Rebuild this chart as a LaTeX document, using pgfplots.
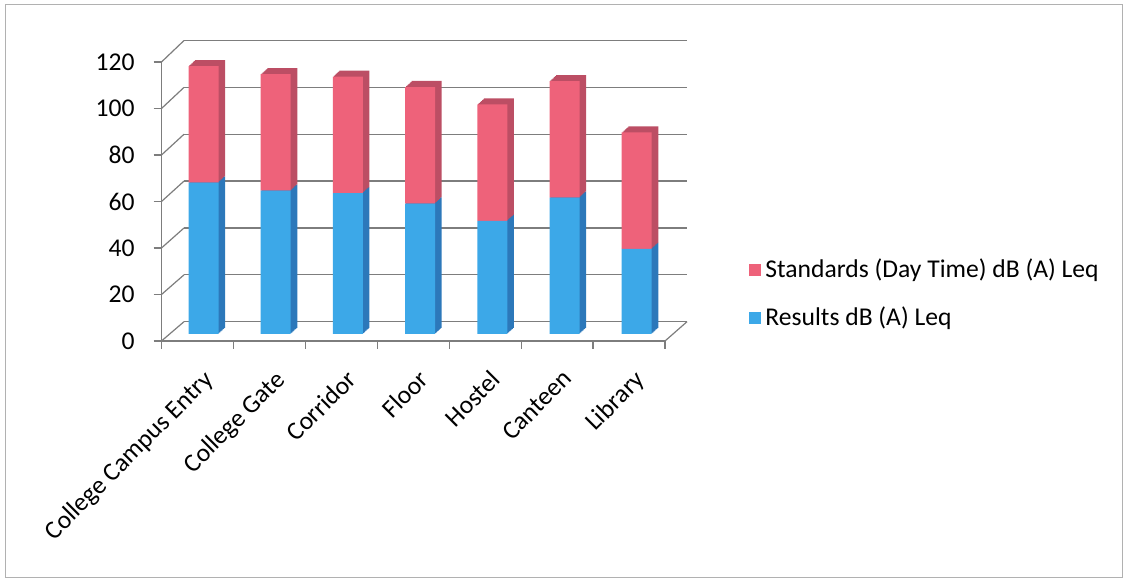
\documentclass[border=0pt]{standalone}
\usepackage{pgfplots}
\pgfplotsset{compat=1.18}
\usepackage{pgfplotstable}
\usepackage{fontspec}
\setmainfont{Carlito}
\definecolor{redF}{RGB}{238,98,122}
\definecolor{redS}{RGB}{188,78,100}
\definecolor{blueF}{RGB}{60,168,232}
\definecolor{blueS}{RGB}{44,120,186}
\definecolor{gridc}{RGB}{125,125,125}

\pgfplotstableread{
x res std
0 65 50
1 61.5 50
2 60.5 50
3 56 50
4 48.5 50
5 58.5 50
6 36.5 50
}\data

\newcommand{\lblfont}{\fontsize{12.8}{15}\selectfont}

\begin{document}
\lblfont
\begin{tikzpicture}[x=1pt,y=1pt]
\path[use as bounding box] (0,0) rectangle (563.5,291);
\draw[gridc!60, line width=0.5pt] (2.5,2) rectangle (561,288.5);
% back wall grid
\begin{axis}[at={(92pt,130.15pt)}, anchor=south west, scale only axis,
  width=251.5pt, height=140.6pt, xmin=0, xmax=1, ymin=0, ymax=120,
  ytick={0,20,...,120}, xtick=\empty, yticklabels={},
  ymajorgrids, major grid style={gridc, line width=0.6pt},
  axis line style={draw=none}, tick style={draw=none}]
\addplot[draw=none] coordinates {(0,0)};
\end{axis}
% left wall and floor edges
\foreach \k in {0,...,6}{
  \draw[gridc, line width=0.6pt] (80.75,{120.5+\k*23.25}) -- (92,{130.15+\k*23.43});
}
\draw[gridc, line width=0.6pt] (332.5,120.5) -- (343.5,130.15);
% depth (side/top faces), extruded back to front
\foreach \s in {7,6,...,1}{
\begin{axis}[at={({83.7pt+\s*0.47pt},{124pt+\s*0.43pt})}, anchor=south west, scale only axis,
  width=252.7pt, height=139.8pt, xmin=-0.5, xmax=6.5, ymin=0, ymax=120,
  hide axis, ybar stacked, bar width=15pt]
\addplot[fill=blueS, draw=none] table[x=x,y=res]{\data};
\addplot[fill=redS, draw=none] table[x=x,y=std]{\data};
\end{axis}
}
% front faces
\begin{axis}[at={(83.7pt,124pt)}, anchor=south west, scale only axis,
  width=252.7pt, height=139.8pt, xmin=-0.5, xmax=6.5, ymin=0, ymax=120,
  hide axis, ybar stacked, bar width=15pt]
\addplot[fill=blueF, draw=none] table[x=x,y=res]{\data};
\addplot[fill=redF, draw=none] table[x=x,y=std]{\data};
\end{axis}
% front frame, ticks, labels, legend
\begin{axis}[at={(80.75pt,120.5pt)}, anchor=south west, scale only axis,
  width=251.75pt, height=139.5pt, xmin=-0.5, xmax=6.5, ymin=0, ymax=120,
  axis x line*=bottom, axis y line*=left,
  axis line style={gridc, line width=0.6pt, -},
  xtick={0,...,6},
  xticklabels={College Campus Entry, College Gate, Corridor, Floor, Hostel, Canteen, Library},
  xticklabel style={rotate=45, anchor=north east, font=\lblfont, xshift=-1pt, yshift=-4pt},
  major x tick style={draw=none},
  minor xtick={-0.5,0.5,...,6.5},
  minor x tick style={gridc, line width=0.6pt},
  minor tick length=4pt,
  ytick={0,20,...,120},
  y tick style={gridc, line width=0.6pt},
  major tick length=4pt,
  tick align=outside,
  yticklabel style={font=\lblfont, xshift=-5pt},
  /pgf/number format/assume math mode=true,
  reverse legend,
  legend cell align=left,
  legend style={at={(1.155,0.168)}, anchor=west, draw=none, fill=none,
    row sep=9pt, font=\lblfont},
  legend image code/.code={\fill[#1] (0pt,-3pt) rectangle (6pt,3pt);}]
\addlegendimage{fill=blueF, draw=none}
\addlegendentry{Results dB (A) Leq}
\addlegendimage{fill=redF, draw=none}
\addlegendentry{Standards (Day Time) dB (A) Leq}
\end{axis}
\end{tikzpicture}
\end{document}
